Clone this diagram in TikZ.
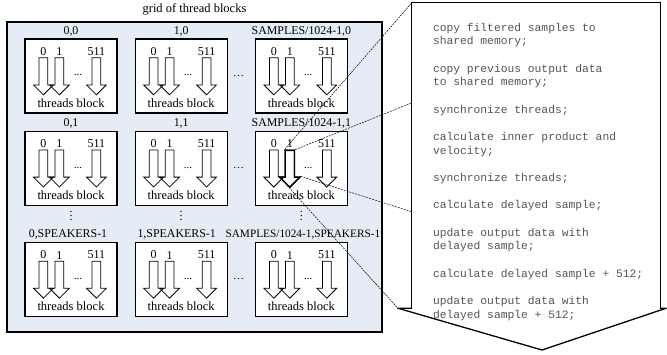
\documentclass[tikz,border=0pt]{standalone}
\usepackage{fontspec}
\setmainfont{Liberation Serif}
\newfontfamily\codefont{Liberation Mono}
\usetikzlibrary{positioning,shapes.arrows}
\definecolor{gridfill}{RGB}{230,236,246}
\definecolor{codegray}{RGB}{85,85,85}

\begin{document}
\begin{tikzpicture}[x=1pt,y=-1pt,
    grid box/.style={draw,line width=2.4pt,fill=gridfill,minimum width=375pt,minimum height=310pt,inner sep=0pt},
    block/.style={draw,line width=1.2pt,fill=white,minimum width=92pt,minimum height=74pt,inner sep=0pt},
    thread/.style={single arrow,draw,line width=0.8pt,rotate=-90,anchor=tail,minimum height=37pt,
                   inner xsep=0pt,inner ysep=4pt,single arrow head extend=5.5pt,single arrow tip angle=90},
    blk label/.style={inner sep=0pt,font=\fontsize{11.9}{13}\selectfont},
    num/.style={inner sep=0pt,font=\fontsize{12}{13}\selectfont},
    tb text/.style={inner sep=0pt,anchor=base,font=\fontsize{12.5}{14}\selectfont},
    few dots/.style={inner sep=0pt,anchor=base,font=\fontsize{11}{12}\selectfont},
    code text/.style={inner sep=0pt,anchor=north west,align=left,text=codegray,
                      font=\codefont\fontsize{11.3}{13.67}\selectfont},
    link/.style={line width=0.5pt,dash pattern=on 2pt off 1pt}]

  \useasboundingbox (0,0) rectangle (667,354);

  % grid of blocks
  \node[grid box] (grid) at (194.5,177) {};
  \node[inner sep=0pt,font=\fontsize{12.5}{14}\selectfont,above=5pt of grid] (title) {grid of thread blocks};

  \node[block] (b00) at (71,76) {};
  \node[block,right=17pt of b00] (b10) {};
  \node[block,right=27pt of b10] (b20) {};
  \node[block,below=17pt of b00] (b01) {};
  \node[block,right=17pt of b01] (b11) {};
  \node[block,right=27pt of b11] (b21) {};
  \node[block,below=36pt of b01] (b02) {};
  \node[block,right=17pt of b02] (b12) {};
  \node[block,right=27pt of b12] (b22) {};

  \node[blk label,above=2pt of b00] (l00) {0,0};
  \node[blk label,above=2pt of b10] (l10) {1,0};
  \node[blk label,above=2pt of b20] (l20) {SAMPLES/1024-1,0};
  \node[blk label,above=2pt of b01] (l01) {0,1};
  \node[blk label,above=2pt of b11] (l11) {1,1};
  \node[blk label,above=2pt of b21] (l21) {SAMPLES/1024-1,1};
  \node[blk label,above=2pt of b02,xshift=-3pt] (l02) {0,SPEAKERS-1};
  \node[blk label,above=2pt of b12,xshift=-4.5pt] (l12) {1,SPEAKERS-1};
  \node[blk label,above=2pt of b22,xshift=1.5pt,font=\fontsize{11.3}{13}\selectfont] (l22) {SAMPLES/1024-1,SPEAKERS-1};

  % threads inside every block
  \foreach \b in {b00,b10,b20,b01,b11,b21,b02,b12,b22}{
    \node[thread] (\b-a0) at ([xshift=19pt,yshift=-19pt]\b.north west) {};
    \node[thread] (\b-a1) at ([xshift=35pt,yshift=-19pt]\b.north west) {};
    \node[thread] (\b-a2) at ([xshift=72pt,yshift=-19pt]\b.north west) {};
    \node[num,above=1.5pt of \b-a0.tail] (\b-n0) {0};
    \node[num,above=1.5pt of \b-a1.tail] (\b-n1) {1};
    \node[num,above=1.5pt of \b-a2.tail] (\b-n2) {511};
    \node[few dots] (\b-d) at ([xshift=53.5pt,yshift=-37.5pt]\b.north west) {...};
    \node[tb text] (\b-t) at ([yshift=6.5pt]\b.south) {threads block};
  }

  \node[few dots,anchor=west,right=5pt of b10] (h0) {\dots};
  \node[few dots,anchor=west,right=5pt of b11] (h1) {\dots};
  \node[few dots,anchor=west,right=5pt of b12] (h2) {\dots};
  \node[num,anchor=base] (v0) at ([yshift=-14.5pt]b01.south) {$\vdots$};
  \node[num,anchor=base] (v1) at ([yshift=-14.5pt]b11.south) {$\vdots$};
  \node[num,anchor=base] (v2) at ([yshift=-14.5pt]b21.south) {$\vdots$};

  \node[thread,line width=1.4pt] (hot) at (b21-a1.tail) {};

  % kernel of one thread
  \node[fill=white,minimum width=248pt,minimum height=305pt,inner sep=0pt] (kernel) at (536,155.5) {};
  \coordinate (kleft) at ([xshift=-14pt]kernel.south west);
  \coordinate (kright) at ([xshift=6pt]kernel.south east);
  \coordinate (ktip) at (542,350);
  \coordinate (k1) at ([yshift=-100pt]kernel.north west);
  \coordinate (k2) at ([yshift=-209pt]kernel.north west);
  \fill[white] (kleft) -- (ktip) -- (kright) -- cycle;
  \draw[line width=0.8pt] (kernel.south west) -- (kernel.north west) -- (kernel.north east) -- (kernel.south east);
  \draw[line width=1.3pt,line join=round] (kernel.south west) -- (kleft) -- (ktip) -- (kright) -- (kernel.south east);

  \node[code text] (code) at ([xshift=21pt,yshift=-20pt]kernel.north west)
    {copy filtered samples to\\shared memory;\\[13.67pt]
     copy previous output data\\to shared memory;\\[13.67pt]
     synchronize threads;\\[13.67pt]
     calculate inner product and\\velocity;\\[13.67pt]
     synchronize threads;\\[13.67pt]
     calculate delayed sample;\\[13.67pt]
     update output data with\\delayed sample;\\[13.67pt]
     calculate delayed sample + 512;\\[13.67pt]
     update output data with\\delayed sample + 512;};

  \draw[link] (hot.before tail) -- (kernel.north west);
  \draw[link] (hot.after tail) -- (k1);
  \draw[link] ([xshift=5.5pt]hot.before head) -- (k2);
  \draw[link] ([xshift=-5.5pt]hot.after head) -- (kleft);
\end{tikzpicture}
\end{document}
